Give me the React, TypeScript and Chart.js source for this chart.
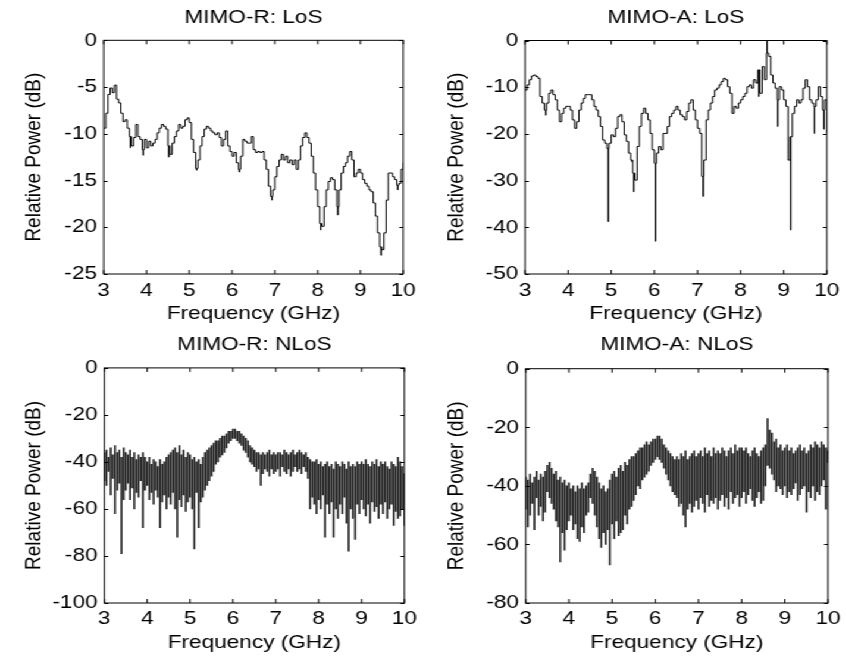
import React, { useEffect, useRef } from "react";
import { Chart, registerables } from "chart.js";
Chart.register(...registerables);

// ---------- data ----------
const FREQ_START = 3; // GHz
const FREQ_STEP = 0.05; // GHz between samples
const X_TICKS = [3, 4, 5, 6, 7, 8, 9, 10];

const Y_TICKS_LOS_R = [0, -5, -10, -15, -20, -25];
const Y_TICKS_LOS_A = [0, -10, -20, -30, -40, -50];
const Y_TICKS_NLOS_R = [0, -20, -40, -60, -80, -100];
const Y_TICKS_NLOS_A = [0, -20, -40, -60, -80];

// MIMO-R LoS, dB at 3.00, 3.05, ... 10.00 GHz
const LOS_R_DB = [
  -9.4, -7.8, -5.8, -5.1, -5.6, -4.8, -6.3, -6.7, -7.8, -8.7,
  -8.5, -9.4, -10.3, -11.3, -10.4, -9.0, -10.3, -10.6, -11.7, -10.6,
  -11.5, -10.8, -11.3, -11.0, -10.6, -9.9, -9.4, -9.0, -9.2, -9.5,
  -11.3, -12.2, -11.0, -10.3, -9.7, -9.0, -9.4, -9.2, -8.5, -8.3,
  -8.8, -10.6, -12.0, -13.7, -12.8, -11.3, -10.3, -9.5, -9.2, -9.4,
  -9.7, -9.9, -10.1, -9.9, -10.4, -11.3, -10.6, -9.7, -11.3, -11.9,
  -12.4, -12.0, -13.1, -13.8, -12.4, -10.6, -10.8, -11.0, -11.0, -10.3,
  -11.7, -12.0, -11.9, -12.0, -11.9, -12.8, -13.8, -15.6, -16.7, -16.0,
  -14.6, -13.5, -12.8, -12.2, -12.8, -12.4, -13.1, -12.8, -13.3, -12.8,
  -13.8, -12.8, -11.3, -10.4, -9.9, -10.4, -11.0, -12.4, -14.2, -16.0,
  -17.8, -19.6, -19.9, -17.8, -16.0, -15.1, -14.7, -14.9, -16.0, -17.8,
  -16.0, -14.2, -13.5, -13.1, -12.4, -11.9, -12.8, -14.6, -14.2, -13.8,
  -14.2, -14.9, -15.3, -15.6, -16.0, -16.2, -17.4, -18.8, -20.6, -22.1,
  -22.4, -20.6, -17.1, -14.2, -14.2, -14.6, -14.9, -15.5, -15.3, -13.8,
  -13.1,
];
// narrow dips: [GHz, dB]
const LOS_R_SPIKES = [
  [3.62, -11.5], [3.92, -12.3], [4.52, -12.5], [5.17, -13.9], [6.17, -14.1],
  [6.93, -17.1], [8.07, -20.3], [8.47, -18.7], [9.48, -23.0], [9.87, -16.0],
];

// MIMO-A LoS
const LOS_A_DB = [
  -10.6, -9.5, -8.4, -7.6, -7.4, -7.7, -8.1, -12.0, -13.4, -14.9,
  -13.4, -11.3, -10.6, -11.6, -12.7, -14.9, -17.4, -15.6, -14.5, -14.1,
  -14.1, -14.9, -17.0, -18.8, -17.4, -14.9, -13.4, -12.4, -11.6, -11.6,
  -11.6, -12.7, -14.1, -14.9, -16.3, -18.4, -21.3, -22.0, -23.1, -22.0,
  -20.2, -20.6, -18.8, -16.3, -15.9, -17.4, -20.2, -21.6, -24.1, -25.6,
  -28.4, -29.9, -22.7, -18.4, -15.6, -14.5, -15.6, -17.0, -19.9, -23.4,
  -26.3, -24.1, -22.7, -23.4, -19.9, -19.9, -18.4, -16.3, -15.6, -14.9,
  -14.1, -14.9, -15.9, -16.3, -17.0, -15.2, -13.4, -12.7, -14.9, -17.0,
  -18.8, -19.9, -29.1, -25.6, -17.0, -14.9, -13.4, -12.0, -10.6, -10.2,
  -9.5, -8.8, -8.1, -8.4, -9.9, -11.3, -15.6, -14.1, -14.5, -13.4,
  -12.7, -12.0, -11.3, -9.9, -9.5, -10.2, -8.4, -9.1, -6.3, -11.3,
  -5.6, -8.4, -2.7, -3.4, -7.4, -9.1, -10.2, -12.7, -9.9, -10.6,
  -12.7, -14.1, -25.6, -20.6, -15.6, -14.1, -12.7, -13.4, -12.7, -10.2,
  -8.4, -9.9, -12.7, -13.4, -14.1, -12.7, -9.9, -12.0, -14.9, -12.7,
  -19.9,
];
const LOS_A_SPIKES = [
  [3.48, -16.0], [4.93, -38.8], [5.48, -26.0], [5.52, -32.4], [6.02, -43.0],
  [7.13, -33.4], [8.42, -12.0], [8.61, 0], [8.86, -18.4],
  [9.16, -40.6], [9.71, -19.9], [9.93, -19.0],
];

// MIMO-R NLoS: top and bottom of each fast swing, at 3.00, 3.05, ... 10.00 GHz
const NLOS_R_HI = [
  -36, -35, -38, -34, -37, -33, -36, -35, -38, -34,
  -36, -37, -35, -38, -36, -39, -37, -38, -36, -38,
  -40, -38, -41, -39, -40, -42, -39, -41, -40, -38,
  -37, -36, -35, -34, -36, -33, -37, -35, -38, -36,
  -37, -39, -38, -40, -39, -41, -38, -36, -35, -34,
  -33, -32, -31, -31, -30, -29, -29, -28, -27, -27,
  -26, -26, -27, -27, -28, -29, -30, -31, -33, -34,
  -35, -36, -36, -37, -36, -37, -36, -35, -37, -36,
  -37, -36, -36, -37, -35, -36, -37, -36, -35, -37,
  -36, -35, -36, -37, -36, -38, -39, -40, -40, -39,
  -41, -40, -42, -41, -40, -42, -41, -43, -40, -41,
  -42, -40, -41, -43, -40, -42, -41, -42, -40, -41,
  -40, -41, -39, -41, -42, -40, -41, -39, -42, -40,
  -41, -40, -42, -43, -40, -41, -42, -38, -40, -42,
  -45,
];
const NLOS_R_LO = [
  -48, -50, -44, -54, -47, -62, -52, -49, -79, -56,
  -52, -49, -56, -51, -60, -53, -55, -48, -68, -52,
  -50, -56, -53, -58, -52, -55, -68, -57, -54, -60,
  -55, -58, -53, -60, -72, -56, -59, -54, -61, -57,
  -55, -60, -77, -53, -68, -57, -55, -52, -50, -48,
  -46, -44, -41, -40, -38, -37, -36, -34, -32, -31,
  -30, -30, -31, -32, -33, -35, -36, -38, -40, -41,
  -42, -44, -43, -50, -45, -43, -44, -46, -43, -45,
  -44, -43, -46, -42, -44, -45, -43, -46, -44, -42,
  -44, -43, -45, -42, -44, -47, -60, -55, -58, -62,
  -56, -60, -54, -72, -58, -62, -57, -72, -60, -64,
  -58, -62, -55, -66, -78, -60, -64, -73, -58, -62,
  -56, -60, -63, -58, -66, -57, -61, -59, -64, -58,
  -62, -57, -64, -60, -58, -67, -61, -64, -63, -60,
  -67,
];

// MIMO-A NLoS
const NLOS_A_HI = [
  -37, -38, -36, -39, -37, -35, -38, -36, -37, -35,
  -33, -32, -34, -36, -35, -38, -37, -39, -38, -40,
  -39, -41, -40, -42, -40, -41, -39, -41, -40, -39,
  -36, -34, -35, -37, -39, -41, -40, -42, -41, -38,
  -36, -35, -37, -34, -33, -35, -32, -33, -31, -30,
  -30, -29, -28, -27, -27, -26, -25, -26, -25, -24,
  -24, -23, -23, -24, -26, -27, -28, -29, -30, -31,
  -30, -31, -29, -30, -28, -31, -30, -29, -28, -30,
  -29, -28, -30, -27, -29, -28, -30, -27, -29, -28,
  -29, -27, -28, -30, -28, -27, -29, -26, -28, -27,
  -27, -28, -27, -29, -30, -28, -27, -29, -30, -28,
  -27, -26, -17, -21, -22, -25, -24, -27, -26, -28,
  -27, -26, -28, -27, -29, -28, -27, -26, -28, -27,
  -29, -28, -26, -27, -25, -26, -27, -25, -26, -27,
  -28,
];
const NLOS_A_LO = [
  -48, -54, -50, -46, -55, -44, -50, -47, -52, -49,
  -42, -44, -46, -48, -52, -54, -66, -56, -62, -55,
  -52, -50, -55, -53, -58, -59, -54, -56, -50, -49,
  -44, -46, -50, -54, -58, -61, -56, -60, -55, -67,
  -53, -58, -52, -57, -56, -55, -50, -53, -48, -47,
  -45, -43, -40, -41, -38, -37, -36, -35, -33, -32,
  -31, -30, -31, -32, -34, -36, -38, -40, -42, -43,
  -44, -47, -46, -50, -54, -48, -46, -49, -47, -45,
  -48, -44, -46, -49, -43, -47, -45, -46, -44, -48,
  -45, -43, -47, -44, -48, -42, -46, -44, -43, -47,
  -44, -42, -46, -43, -41, -45, -47, -44, -42, -46,
  -45, -40, -33, -34, -36, -38, -42, -40, -41, -43,
  -40, -44, -42, -43, -41, -39, -45, -43, -41, -40,
  -49, -42, -44, -40, -45, -42, -43, -40, -38, -48,
  -32,
];

// ---------- helpers ----------
const FONT_FAMILY = "'Liberation Sans', Arial, Helvetica, sans-serif";
const FONT_SIZE = 19;
const STRETCH = 1.19; // the reference's text is drawn about 19% wider than tall

type Pt = { x: number; y: any };
const freqAt = (i: number) => Math.round((FREQ_START + i * FREQ_STEP) * 1000) / 1000;

function stairsWithSpikes(values: number[], spikes: number[][]): Pt[] {
  const pts: Pt[] = values.map((v, i) => ({ x: freqAt(i), y: v }));
  for (const [fx, v] of spikes) {
    const idx = Math.floor((fx - FREQ_START) / FREQ_STEP + 1e-9);
    pts.push({ x: fx, y: v });
    pts.push({ x: fx + 0.006, y: values[idx] });
  }
  pts.sort((a, b) => a.x - b.x);
  return pts;
}

function swings(hi: number[], lo: number[]): Pt[] {
  return hi.map((h, i) => ({ x: freqAt(i), y: [lo[i], h] }));
}

const framePlugin = {
  id: "matlabFrame",
  afterDraw(chart: any) {
    const { ctx, chartArea: a, scales } = chart;
    ctx.save();
    ctx.strokeStyle = "#000";
    ctx.lineWidth = 1;
    ctx.strokeRect(a.left, a.top, a.right - a.left, a.bottom - a.top);
    ctx.beginPath();
    const lv = 4;
    const lh = 3.3;
    for (const t of scales.x.ticks) {
      const px = scales.x.getPixelForValue(t.value);
      ctx.moveTo(px, a.bottom);
      ctx.lineTo(px, a.bottom - lv);
      ctx.moveTo(px, a.top);
      ctx.lineTo(px, a.top + lv);
    }
    for (const t of scales.y.ticks) {
      const py = Math.round(scales.y.getPixelForValue(t.value)) + 0.5;
      ctx.moveTo(a.left, py);
      ctx.lineTo(a.left + lh, py);
      ctx.moveTo(a.right, py);
      ctx.lineTo(a.right - lh, py);
    }
    ctx.stroke();
    ctx.restore();
  },
};

// layout in final (page) pixels; x values are divided by STRETCH for the canvas
type PanelCfg = {
  title: string;
  kind: "stairs" | "swings";
  points: Pt[];
  yMin: number;
  yTicks: number[];
  col: number;
  top: number;
  h: number;
  area: { l: number; r: number; t: number; b: number };
  tickPad: number;
  xTitlePad: number;
};

const COL_LEFT = [0, 355];
const COL_W = [355, 356];

const PANELS: PanelCfg[] = [
  {
    title: "MIMO-R: LoS", kind: "stairs",
    points: stairsWithSpikes(LOS_R_DB, LOS_R_SPIKES),
    yMin: -25, yTicks: Y_TICKS_LOS_R,
    col: 0, top: 0, h: 327,
    area: { l: 103.7, r: 409.6, t: 40.3, b: 274 },
    tickPad: 5.6, xTitlePad: 1.6,
  },
  {
    title: "MIMO-A: LoS", kind: "stairs",
    points: stairsWithSpikes(LOS_A_DB, LOS_A_SPIKES),
    yMin: -50, yTicks: Y_TICKS_LOS_A,
    col: 1, top: 0, h: 327,
    area: { l: 525.0, r: 833.3, t: 40.5, b: 274 },
    tickPad: 5.6, xTitlePad: 1.6,
  },
  {
    title: "MIMO-R: NLoS", kind: "swings",
    points: swings(NLOS_R_HI, NLOS_R_LO),
    yMin: -100, yTicks: Y_TICKS_NLOS_R,
    col: 0, top: 327, h: 330,
    area: { l: 104.3, r: 409.3, t: 40.9, b: 276 },
    tickPad: 4.6, xTitlePad: 2.6,
  },
  {
    title: "MIMO-A: NLoS", kind: "swings",
    points: swings(NLOS_A_HI, NLOS_A_LO),
    yMin: -80, yTicks: Y_TICKS_NLOS_A,
    col: 1, top: 327, h: 330,
    area: { l: 525.7, r: 833.0, t: 41.7, b: 276 },
    tickPad: 4.6, xTitlePad: 2.6,
  },
];

function Panel({ cfg }: { cfg: PanelCfg }) {
  const ref = useRef<HTMLCanvasElement>(null);
  const left = COL_LEFT[cfg.col];
  const w = COL_W[cfg.col];
  useEffect(() => {
    const font = { family: FONT_FAMILY, size: FONT_SIZE, weight: "normal" as const, lineHeight: 1.2 };
    const lh = FONT_SIZE * 1.2;
    const titleTop = 6.4;
    const areaL = cfg.area.l / STRETCH - left;
    const areaR = cfg.area.r / STRETCH - left;
    const dataset: any =
      cfg.kind === "stairs"
        ? {
            type: "line",
            data: cfg.points,
            borderColor: "#000",
            borderWidth: 1,
            pointRadius: 0,
            stepped: true,
            fill: false,
          }
        : {
            type: "bar",
            data: cfg.points,
            backgroundColor: "#1a1a1a",
            borderWidth: 0,
            barThickness: 0.9,
            grouped: false,
          };
    const chart = new Chart(ref.current!, {
      type: cfg.kind === "stairs" ? "line" : "bar",
      data: { datasets: [dataset] },
      options: {
        animation: false,
        responsive: false,
        devicePixelRatio: 1,
        layout: { padding: { left: 0, top: 0, bottom: 0, right: w - areaR } },
        plugins: {
          legend: { display: false },
          tooltip: { enabled: false },
          title: {
            display: true,
            text: cfg.title,
            color: "#000",
            font,
            fullSize: false,
            padding: { top: titleTop, bottom: cfg.area.t - lh - titleTop },
          },
        },
        scales: {
          x: {
            type: "linear",
            min: 3,
            max: 10,
            offset: false,
            afterBuildTicks: (s: any) => {
              s.ticks = X_TICKS.map((v) => ({ value: v }));
            },
            afterFit: (s: any) => {
              s.height = cfg.h - cfg.area.b;
            },
            ticks: { color: "#000", font, padding: cfg.tickPad, maxRotation: 0, autoSkip: false },
            grid: { display: false, drawTicks: false, offset: false },
            border: { display: false },
            title: {
              display: true,
              text: "Frequency (GHz)",
              color: "#000",
              font,
              padding: { top: 0, bottom: cfg.xTitlePad },
            },
          },
          y: {
            type: "linear",
            min: cfg.yMin,
            max: 0,
            afterBuildTicks: (s: any) => {
              s.ticks = cfg.yTicks.map((v) => ({ value: v }));
            },
            afterFit: (s: any) => {
              s.width = areaL;
            },
            ticks: { color: "#000", font, padding: 5.6 },
            grid: { display: false, drawTicks: false },
            border: { display: false },
            title: {
              display: true,
              text: "Relative Power (dB)",
              color: "#000",
              font,
              padding: { top: 17.8, bottom: 0 },
            },
          },
        },
      },
      plugins: [framePlugin],
    } as any);
    return () => chart.destroy();
  }, [cfg]);
  return (
    <canvas
      ref={ref}
      width={w}
      height={cfg.h}
      style={{ position: "absolute", left, top: cfg.top, width: w, height: cfg.h }}
    />
  );
}

export default function App() {
  return (
    <div
      style={{
        position: "fixed",
        left: 0,
        top: 0,
        width: COL_LEFT[1] + COL_W[1],
        height: 657,
        background: "#fff",
        transform: `scaleX(${STRETCH})`,
        transformOrigin: "0 0",
      }}
    >
      {PANELS.map((p) => (
        <Panel key={p.title} cfg={p} />
      ))}
    </div>
  );
}
